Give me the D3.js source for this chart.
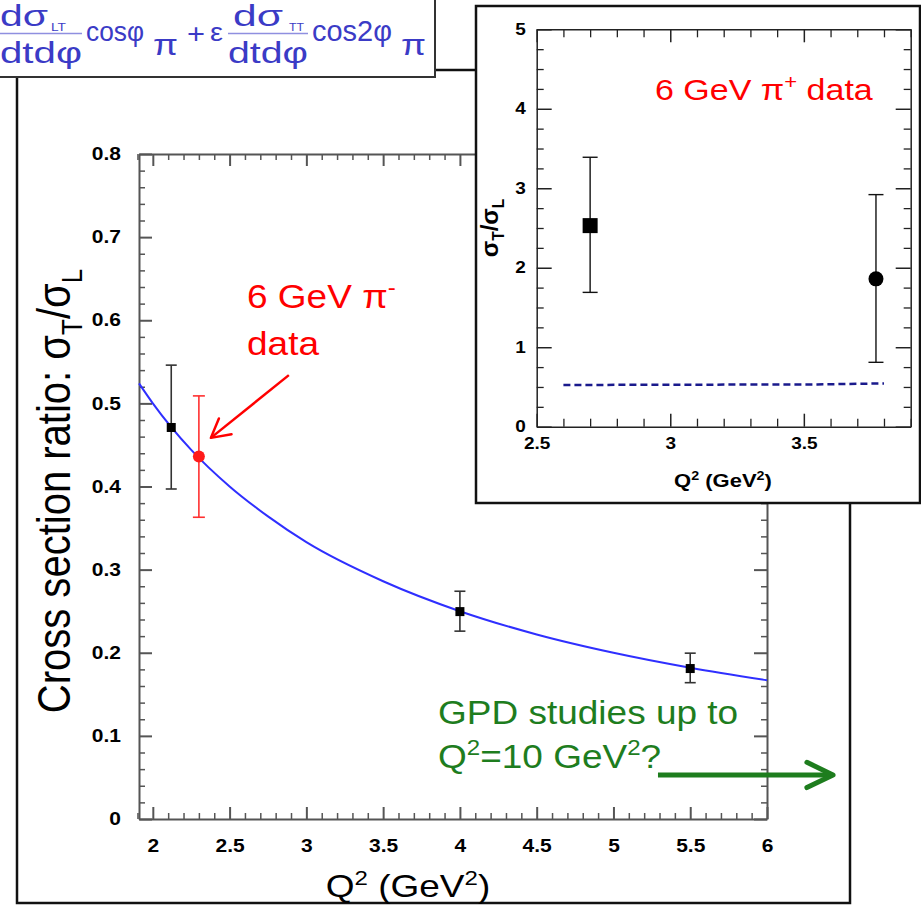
<!DOCTYPE html>
<html>
<head>
<meta charset="utf-8">
<script src="https://cdn.jsdelivr.net/npm/d3@7"></script>
<style>
body { margin: 0; background: #fff; }
svg { display: block; }
</style>
</head>
<body>
<svg width="921" height="905"></svg>
<script>
// ---- main plot data (pi- sigma_T/sigma_L vs Q^2) ----
const blackQ2 = [2.12, 4.0, 5.5];
const blackRatio = [0.471, 0.2495, 0.181];
const blackLow = [0.397, 0.226, 0.164];
const blackHigh = [0.546, 0.274, 0.1995];

const redQ2 = [2.3];
const redRatio = [0.436];
const redLow = [0.363];
const redHigh = [0.509];

const fitQ2 = [1.91, 2.0, 2.25, 2.5, 2.75, 3.0, 3.5, 4.0, 4.5, 5.0, 5.5, 6.0];
const fitRatio = [0.524, 0.5, 0.444, 0.4, 0.364, 0.333, 0.286, 0.25, 0.222, 0.2, 0.182, 0.167];

const mainXTicks = [2, 2.5, 3, 3.5, 4, 4.5, 5, 5.5, 6];
const mainYTicks = [0, 0.1, 0.2, 0.3, 0.4, 0.5, 0.6, 0.7, 0.8];

// ---- inset data (pi+) ----
const squareQ2 = [2.7];
const squareRatio = [2.53];
const squareLow = [1.69];
const squareHigh = [3.39];

const circleQ2 = [3.77];
const circleRatio = [1.86];
const circleLow = [0.81];
const circleHigh = [2.92];

const dashQ2 = [2.6, 3.55, 3.8];
const dashRatio = [0.525, 0.532, 0.545];

const insetXTicks = [2.5, 3, 3.5];
const insetYTicks = [0, 1, 2, 3, 4, 5];

// annotation arrows, in data units of the main plot
const redArrow = [[2.886, 0.534], [2.378, 0.4585]];
const greenArrow = [[5.29, 0.053], [6.43, 0.053]];

const svg = d3.select("svg");
const sans = "'Liberation Sans', Arial, Helvetica, sans-serif";

function richText(parent, parts, size) {
  let cur = 0;
  parts.forEach(p => {
    const [t, k] = typeof p === "string" ? [p, ""] : p;
    const off = k === "sup" ? -0.38 * size : k === "sub" ? 0.25 * size : 0;
    parent.append("tspan")
      .attr("dy", off - cur)
      .attr("font-size", k ? size * 0.65 : size)
      .text(t);
    cur = off;
  });
  return parent;
}

function arrowHead(g, x1, y1, x2, y2, len, ang, color, w) {
  const a = Math.atan2(y2 - y1, x2 - x1);
  const p1 = [x2 - len * Math.cos(a - ang), y2 - len * Math.sin(a - ang)];
  const p2 = [x2 - len * Math.cos(a + ang), y2 - len * Math.sin(a + ang)];
  g.append("path")
    .attr("d", `M${p1}L${x2},${y2}L${p2}`)
    .attr("fill", "none")
    .attr("stroke", color)
    .attr("stroke-width", w)
    .attr("stroke-linecap", "round")
    .attr("stroke-linejoin", "round");
}

// draws a closed box of axes with inward ticks
function boxAxes(g, x, y, o) {
  const [xl, xr] = x.range();
  const [yb, yt] = y.range();
  const minorX = o.xMinor.filter(v => !o.xMajor.some(m => Math.abs(m - v) < 1e-6));
  const minorY = o.yMinor.filter(v => !o.yMajor.some(m => Math.abs(m - v) < 1e-6));
  const sides = [
    [d3.axisBottom(x), `translate(0,${yb})`, minorX, o.xMajor, o.xPad, o.xLen],
    [d3.axisTop(x), `translate(0,${yt})`, minorX, o.xMajor, 0, o.xLen],
    [d3.axisLeft(y), `translate(${xl},0)`, minorY, o.yMajor, o.yPad, o.yLen],
    [d3.axisRight(y), `translate(${xr},0)`, minorY, o.yMajor, 0, o.yLen]
  ];
  sides.forEach(([ax, tr, minor, major, pad, len]) => {
    g.append("g").attr("transform", tr)
      .call(ax.tickValues(minor).tickSize(-len[1]).tickSizeOuter(0).tickFormat(""))
      .call(s => s.select(".domain").remove())
      .call(s => s.selectAll("line").attr("stroke", o.color).attr("stroke-width", o.minorW));
    const a = g.append("g").attr("transform", tr)
      .call(ax.tickValues(major).tickSize(-len[0]).tickSizeOuter(0)
        .tickPadding(pad)
        .tickFormat(pad ? d3.format("~g") : ""));
    a.select(".domain").attr("stroke", o.color).attr("stroke-width", o.domainW);
    a.selectAll("line").attr("stroke", o.color).attr("stroke-width", o.majorW);
    a.selectAll("text")
      .attr("fill", "#000")
      .attr("font-family", sans)
      .attr("font-weight", "bold")
      .attr("font-size", o.fontSize)
      .attr("transform", `scale(1,${o.squash})`);
  });
}

// ---------------- outer frame of the main figure ----------------
svg.append("rect")
  .attr("x", 17).attr("y", 70).attr("width", 833).attr("height", 833)
  .attr("fill", "#fff").attr("stroke", "#111").attr("stroke-width", 2.5);

// ---------------- formula box ----------------
const fbox = svg.append("g");
fbox.append("rect")
  .attr("x", -6).attr("y", -6).attr("width", 441).attr("height", 83)
  .attr("fill", "#fff").attr("stroke", "#333").attr("stroke-width", 2);
const blue = "#3b3bc6";
const fparts = [
  ["d\u03c3", 0, 26, 30, 48],
  ["LT", 51, 31, 10, 15],
  ["dtd\u03c6", 0, 63, 30, 82],
  ["cos\u03c6", 86, 41, 27, 58],
  ["\u03c0", 153, 55, 30, 25],
  ["+", 187, 43, 28, 18],
  ["\u03b5", 210, 41, 26, 13],
  ["d\u03c3", 233, 26, 30, 50],
  ["TT", 289, 31, 10, 15],
  ["dtd\u03c6", 228, 63, 30, 80],
  ["cos2\u03c6", 312, 41, 29, 80],
  ["\u03c0", 401, 55, 30, 25]
];
fparts.forEach(([t, x, y, s, w]) => {
  fbox.append("text")
    .attr("x", x).attr("y", y)
    .attr("font-family", sans)
    .attr("font-size", s)
    .attr("fill", blue)
    .attr("textLength", w)
    .attr("lengthAdjust", "spacingAndGlyphs")
    .text(t);
});
[[0, 82], [228, 308]].forEach(([a, b]) => {
  fbox.append("line")
    .attr("x1", a).attr("x2", b).attr("y1", 33.5).attr("y2", 33.5)
    .attr("stroke", "#8f8fe0").attr("stroke-width", 1.5);
});

// ---------------- main plot ----------------
const mx = d3.scaleLinear().domain([1.91, 6]).range([139, 767]);
const my = d3.scaleLinear().domain([0, 0.8]).range([819, 154]);
const main = svg.append("g");

boxAxes(main, mx, my, {
  xMajor: mainXTicks, yMajor: mainYTicks,
  xMinor: d3.range(19, 61).map(v => v / 10),
  yMinor: d3.range(0, 41).map(v => v / 50),
  xLen: [12, 6], yLen: [13, 6],
  color: "#555", domainW: 2, majorW: 2, minorW: 1.5,
  xPad: 24, yPad: 18, fontSize: 21, squash: 0.85
});

// fit curve
main.append("path")
  .datum(fitQ2.map((q, i) => [q, fitRatio[i]]))
  .attr("d", d3.line().x(d => mx(d[0])).y(d => my(d[1])).curve(d3.curveMonotoneX))
  .attr("fill", "none").attr("stroke", "#2f2fff").attr("stroke-width", 2);

function errorBars(g, x, y, qs, lo, hi, cap, color, w) {
  qs.forEach((q, i) => {
    const cx = x(q);
    g.append("line").attr("x1", cx).attr("x2", cx)
      .attr("y1", y(lo[i])).attr("y2", y(hi[i]))
      .attr("stroke", color).attr("stroke-width", w);
    [lo[i], hi[i]].forEach(v => {
      g.append("line").attr("x1", cx - cap).attr("x2", cx + cap)
        .attr("y1", y(v)).attr("y2", y(v))
        .attr("stroke", color).attr("stroke-width", w);
    });
  });
}

errorBars(main, mx, my, blackQ2, blackLow, blackHigh, 5.5, "#333", 1.6);
main.selectAll(".sq").data(blackQ2).join("rect")
  .attr("x", d => mx(d) - 4.5)
  .attr("y", (d, i) => my(blackRatio[i]) - 4.5)
  .attr("width", 9).attr("height", 9).attr("fill", "#000");

errorBars(main, mx, my, redQ2, redLow, redHigh, 6, "#ff3030", 1.6);
main.selectAll(".rd").data(redQ2).join("circle")
  .attr("cx", d => mx(d))
  .attr("cy", (d, i) => my(redRatio[i]))
  .attr("r", 6).attr("fill", "#ff1a1a");

// y title
const ytitle = main.append("text")
  .attr("transform", "translate(70,491) rotate(-90) scale(0.87,1)")
  .attr("text-anchor", "middle")
  .attr("font-family", sans).attr("font-size", 46).attr("fill", "#000");
richText(ytitle, ["Cross section ratio: \u03c3", ["T", "sub"], "/\u03c3", ["L", "sub"]], 46);

// x title
const xtitle = main.append("text")
  .attr("transform", "translate(408,897) scale(1,0.87)")
  .attr("text-anchor", "middle")
  .attr("font-family", sans).attr("font-size", 37).attr("fill", "#000");
richText(xtitle, ["Q", ["2", "sup"], " (GeV", ["2", "sup"], ")"], 37);

// red annotation
const red1 = main.append("text")
  .attr("transform", "translate(247,308) scale(1,0.9)")
  .attr("font-family", sans).attr("font-size", 37).attr("fill", "#ff0000");
richText(red1, ["6 GeV \u03c0", ["-", "sup"]], 37);
main.append("text")
  .attr("transform", "translate(247,355) scale(1,0.9)")
  .attr("font-family", sans).attr("font-size", 37).attr("fill", "#ff0000")
  .text("data");
{
  const [[ax, ay], [bx, by]] = redArrow;
  main.append("line")
    .attr("x1", mx(ax)).attr("y1", my(ay)).attr("x2", mx(bx)).attr("y2", my(by))
    .attr("stroke", "#ff0000").attr("stroke-width", 2.5);
  arrowHead(main, mx(ax), my(ay), mx(bx), my(by), 21, 0.5, "#ff0000", 2.5);
}

// green annotation
const green = "#1e7d1e";
main.append("text")
  .attr("transform", "translate(438,724) scale(1,0.9)")
  .attr("font-family", sans).attr("font-size", 37).attr("fill", green)
  .text("GPD studies up to");
const g2 = main.append("text")
  .attr("transform", "translate(438,768) scale(1,0.9)")
  .attr("font-family", sans).attr("font-size", 37).attr("fill", green);
richText(g2, ["Q", ["2", "sup"], "=10 GeV", ["2", "sup"], "?"], 37);
{
  const [[ax, ay], [bx, by]] = greenArrow;
  main.append("line")
    .attr("x1", mx(ax)).attr("y1", my(ay)).attr("x2", mx(bx) - 3).attr("y2", my(by))
    .attr("stroke", green).attr("stroke-width", 5);
  arrowHead(main, mx(ax), my(ay), mx(bx), my(by), 29, 0.45, green, 5);
}

// ---------------- inset ----------------
const inset = svg.append("g");
inset.append("rect")
  .attr("x", 476).attr("y", 6).attr("width", 444).attr("height", 497)
  .attr("fill", "#fff").attr("stroke", "#111").attr("stroke-width", 2.5);

const ix = d3.scaleLinear().domain([2.5, 3.9]).range([536.7, 910.7]);
const iy = d3.scaleLinear().domain([0, 5]).range([426.7, 29.3]);

boxAxes(inset, ix, iy, {
  xMajor: insetXTicks, yMajor: insetYTicks,
  xMinor: d3.range(25, 40).map(v => v / 10),
  yMinor: d3.range(0, 21).map(v => v / 4),
  xLen: [13, 8], yLen: [15, 7],
  color: "#222", domainW: 1.5, majorW: 1.5, minorW: 1.3,
  xPad: 14, yPad: 11, fontSize: 19, squash: 0.82
});

// dashed theory line
inset.append("path")
  .datum(dashQ2.map((q, i) => [q, dashRatio[i]]))
  .attr("d", d3.line().x(d => ix(d[0])).y(d => iy(d[1])))
  .attr("fill", "none").attr("stroke", "#1a1a8c").attr("stroke-width", 2.5)
  .attr("stroke-dasharray", "7,4");

errorBars(inset, ix, iy, squareQ2, squareLow, squareHigh, 7.5, "#111", 1.4);
inset.selectAll(".isq").data(squareQ2).join("rect")
  .attr("x", d => ix(d) - 7.5)
  .attr("y", (d, i) => iy(squareRatio[i]) - 7.5)
  .attr("width", 15).attr("height", 15).attr("fill", "#000");

errorBars(inset, ix, iy, circleQ2, circleLow, circleHigh, 7.5, "#111", 1.4);
inset.selectAll(".ic").data(circleQ2).join("circle")
  .attr("cx", d => ix(d))
  .attr("cy", (d, i) => iy(circleRatio[i]))
  .attr("r", 7.5).attr("fill", "#000");

const iyt = inset.append("text")
  .attr("transform", "translate(498,228) rotate(-90)")
  .attr("text-anchor", "middle")
  .attr("font-family", sans).attr("font-weight", "bold").attr("font-size", 24).attr("fill", "#000");
richText(iyt, ["\u03c3", ["T", "sub"], "/\u03c3", ["L", "sub"]], 24);

const ixt = inset.append("text")
  .attr("transform", "translate(723,487) scale(1,0.85)")
  .attr("text-anchor", "middle")
  .attr("font-family", sans).attr("font-weight", "bold").attr("font-size", 22).attr("fill", "#000");
richText(ixt, ["Q", ["2", "sup"], " (GeV", ["2", "sup"], ")"], 22);

const ired = inset.append("text")
  .attr("transform", "translate(655,100) scale(1,0.88)")
  .attr("font-family", sans).attr("font-size", 34).attr("fill", "#ff0000");
richText(ired, ["6 GeV \u03c0", ["+", "sup"], " data"], 34);
</script>
</body>
</html>
